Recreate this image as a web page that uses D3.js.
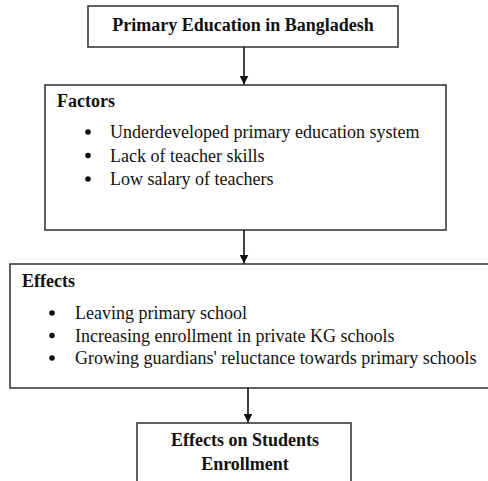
<!DOCTYPE html>
<html>
<head>
<meta charset="utf-8">
<script src="https://cdn.jsdelivr.net/npm/d3@7"></script>
<style>
  body { margin: 0; background: #fff; }
  svg { display: block; }
  svg text { font-family: "Liberation Serif", "Times New Roman", Times, serif; }
</style>
</head>
<body>
<svg></svg>
<script>
// Flowchart content
const titleText = "Primary Education in Bangladesh";
const factorsHeading = "Factors";
const factorsItems = [
    "Underdeveloped primary education system",
    "Lack of teacher skills",
    "Low salary of teachers"
];
const effectsHeading = "Effects";
const effectsItems = [
    "Leaving primary school",
    "Increasing enrollment in private KG schools",
    "Growing guardians' reluctance towards primary schools"
];
const outcomeLines = ["Effects on Students", "Enrollment"];

const width = 488;
const height = 481;
const stroke = "#3a3a3a";

const svg = d3.select("svg")
    .attr("width", width)
    .attr("height", height)
    .attr("viewBox", [0, 0, width, height]);

svg.append("defs").append("marker")
    .attr("id", "arrow")
    .attr("viewBox", "0 0 10 10")
    .attr("refX", 10)
    .attr("refY", 5)
    .attr("markerWidth", 9)
    .attr("markerHeight", 9)
    .attr("markerUnits", "userSpaceOnUse")
    .attr("orient", "auto")
    .append("path")
    .attr("d", "M0,0L10,5L0,10Z")
    .attr("fill", "#111");

// boxes: x0, y0, x1, y1
const boxes = [
    {x0: 88, y0: 6, x1: 398, y1: 47},
    {x0: 45, y0: 85, x1: 446, y1: 230},
    {x0: 10, y0: 264, x1: 494, y1: 388},
    {x0: 137, y0: 423, x1: 351, y1: 490}
];

svg.selectAll("rect.box")
    .data(boxes)
    .join("rect")
    .attr("class", "box")
    .attr("x", d => d.x0)
    .attr("y", d => d.y0)
    .attr("width", d => d.x1 - d.x0)
    .attr("height", d => d.y1 - d.y0)
    .attr("fill", "none")
    .attr("stroke", stroke)
    .attr("stroke-width", 1.6);

// connectors
const arrows = [
    {x: 244, y0: 47, y1: 85},
    {x: 244, y0: 230, y1: 264},
    {x: 248, y0: 388, y1: 423}
];

svg.selectAll("line.arrow")
    .data(arrows)
    .join("line")
    .attr("class", "arrow")
    .attr("x1", d => d.x)
    .attr("x2", d => d.x)
    .attr("y1", d => d.y0)
    .attr("y2", d => d.y1 - 0.5)
    .attr("stroke", "#111")
    .attr("stroke-width", 1.6)
    .attr("marker-end", "url(#arrow)");

// title
svg.append("text")
    .attr("x", 243)
    .attr("y", 31)
    .attr("text-anchor", "middle")
    .attr("font-size", 18)
    .attr("font-weight", "bold")
    .attr("fill", "#111")
    .text(titleText);

// heading + bullet list inside a box
const drawList = (heading, items, hx, hy, bx, tx, y0, step) => {
    const g = svg.append("g");
    g.append("text")
        .attr("x", hx)
        .attr("y", hy)
        .attr("font-size", 18)
        .attr("font-weight", "bold")
        .attr("fill", "#111")
        .text(heading);

    const y = d3.scalePoint(d3.range(items.length), [y0, y0 + step * (items.length - 1)]);

    g.selectAll("circle")
        .data(items)
        .join("circle")
        .attr("cx", bx)
        .attr("cy", (d, i) => y(i) - 6)
        .attr("r", 2.8)
        .attr("fill", "#111");

    g.selectAll("text.item")
        .data(items)
        .join("text")
        .attr("class", "item")
        .attr("x", tx)
        .attr("y", (d, i) => y(i))
        .attr("font-size", 18)
        .attr("fill", "#111")
        .text(d => d);
};

drawList(factorsHeading, factorsItems, 57, 107, 88, 110, 138, 23.5);
drawList(effectsHeading, effectsItems, 22, 287, 52, 75, 319, 22.5);

// outcome box text
svg.selectAll("text.outcome")
    .data(outcomeLines)
    .join("text")
    .attr("class", "outcome")
    .attr("x", 245)
    .attr("y", (d, i) => 446 + i * 24)
    .attr("text-anchor", "middle")
    .attr("font-size", 18)
    .attr("font-weight", "bold")
    .attr("fill", "#111")
    .text(d => d);
</script>
</body>
</html>
